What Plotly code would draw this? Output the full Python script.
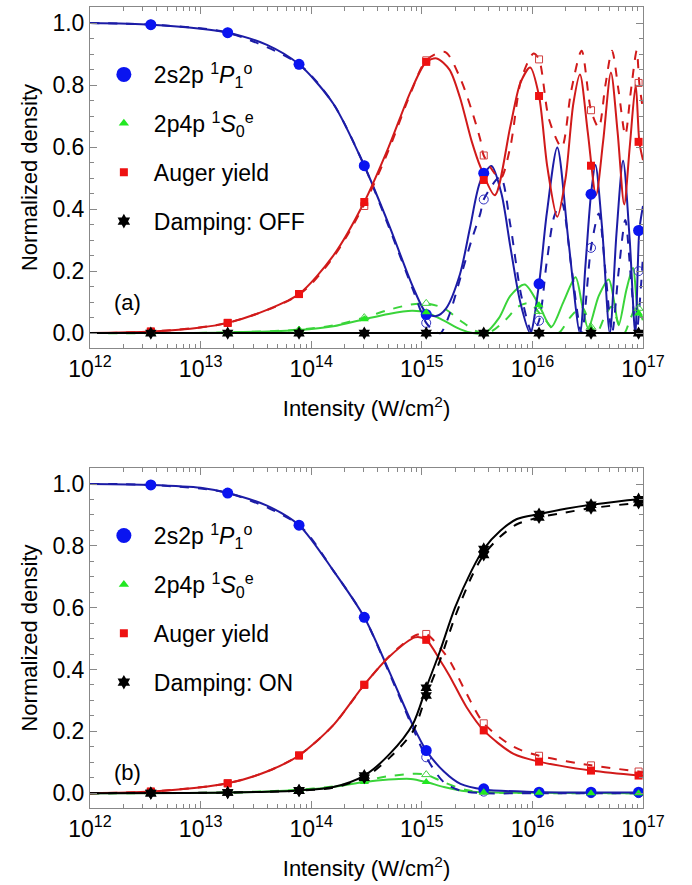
import plotly.graph_objects as go

# ---------------- data (x given as log10 of intensity) ----------------
mk_logI = [12.55, 13.245, 13.89, 14.48, 15.04, 15.56, 16.06, 16.53, 16.96]

# Panel (a): damping OFF
a_blue_solid_x = [12.0, 12.55, 13.0, 13.245, 13.6, 13.89, 14.2, 14.48, 14.71, 14.92, 15.04, 15.13, 15.22, 15.345, 15.436, 15.53, 15.63, 15.72, 15.80, 15.89, 15.98, 16.06, 16.13, 16.225, 16.325, 16.43, 16.48, 16.53, 16.57, 16.63, 16.70, 16.76, 16.82, 16.88, 16.93, 16.967, 17.0]
a_blue_solid_y = [1.0, 0.995, 0.982, 0.969, 0.93, 0.867, 0.74, 0.54, 0.343, 0.149, 0.065, 0.055, 0.08, 0.19, 0.34, 0.49, 0.539, 0.45, 0.28, 0.10, 0.0, 0.159, 0.386, 0.599, 0.30, 0.0, 0.22, 0.448, 0.542, 0.34, 0.0, 0.32, 0.556, 0.30, 0.0, 0.332, 0.41]
a_blue_dash_x = [12.0, 12.55, 13.245, 13.89, 14.2, 14.48, 14.71, 14.92, 15.04, 15.12, 15.17, 15.25, 15.35, 15.45, 15.53, 15.56, 15.71, 15.80, 15.90, 16.0, 16.06, 16.13, 16.20, 16.265, 16.35, 16.445, 16.53, 16.60, 16.66, 16.72, 16.78, 16.84, 16.89, 16.94, 17.0]
a_blue_dash_y = [1.0, 0.995, 0.969, 0.867, 0.74, 0.54, 0.335, 0.14, 0.033, 0.005, 0.0, 0.06, 0.18, 0.30, 0.387, 0.431, 0.504, 0.35, 0.12, 0.0, 0.04, 0.23, 0.38, 0.42, 0.22, 0.0, 0.275, 0.386, 0.20, 0.0, 0.20, 0.365, 0.18, 0.0, 0.25]
a_red_solid_x = [12.0, 12.55, 13.0, 13.245, 13.6, 13.89, 14.2, 14.48, 14.7, 14.9, 15.04, 15.135, 15.25, 15.345, 15.45, 15.53, 15.66, 15.80, 15.89, 15.98, 16.06, 16.135, 16.225, 16.30, 16.37, 16.43, 16.50, 16.575, 16.64, 16.71, 16.77, 16.83, 16.88, 16.934, 16.967, 17.0]
a_red_solid_y = [0.0, 0.005, 0.018, 0.033, 0.075, 0.126, 0.25, 0.423, 0.60, 0.78, 0.875, 0.886, 0.85, 0.76, 0.62, 0.536, 0.445, 0.666, 0.806, 0.857, 0.765, 0.536, 0.375, 0.50, 0.74, 0.834, 0.65, 0.445, 0.62, 0.841, 0.65, 0.415, 0.60, 0.80, 0.617, 0.558]
a_red_dash_x = [12.0, 12.55, 13.245, 13.89, 14.2, 14.48, 14.7, 14.9, 15.04, 15.21, 15.35, 15.45, 15.53, 15.56, 15.71, 15.80, 15.90, 16.01, 16.06, 16.15, 16.265, 16.35, 16.445, 16.53, 16.60, 16.66, 16.72, 16.78, 16.84, 16.89, 16.943, 16.967, 17.0]
a_red_dash_y = [0.0, 0.005, 0.033, 0.124, 0.245, 0.415, 0.59, 0.775, 0.88, 0.907, 0.82, 0.72, 0.623, 0.573, 0.499, 0.60, 0.82, 0.902, 0.883, 0.69, 0.599, 0.78, 0.911, 0.719, 0.663, 0.80, 0.911, 0.78, 0.639, 0.78, 0.911, 0.805, 0.72]
a_green_solid_x = [12.0, 12.55, 13.245, 13.89, 14.2, 14.48, 14.7, 14.91, 15.04, 15.2, 15.35, 15.46, 15.57, 15.7, 15.8, 15.93, 16.06, 16.17, 16.28, 16.39, 16.45, 16.505, 16.6, 16.69, 16.74, 16.78, 16.85, 16.91, 16.96, 17.0]
a_green_solid_y = [0.0, 0.0, 0.002, 0.01, 0.022, 0.045, 0.062, 0.072, 0.067, 0.04, 0.012, 0.0, 0.0, 0.05, 0.12, 0.157, 0.09, 0.02, 0.10, 0.18, 0.09, 0.015, 0.12, 0.173, 0.10, 0.025, 0.14, 0.21, 0.063, 0.05]
a_green_dash_x = [12.0, 12.55, 13.245, 13.89, 14.2, 14.48, 14.7, 14.9, 15.04, 15.2, 15.35, 15.5, 15.6, 15.75, 15.87, 15.97, 16.1, 16.23, 16.34, 16.445, 16.52, 16.58, 16.65, 16.715, 16.78, 16.83, 16.89, 16.94, 17.0]
a_green_dash_y = [0.0, 0.0, 0.002, 0.011, 0.025, 0.05, 0.075, 0.092, 0.096, 0.08, 0.04, 0.005, 0.0, 0.04, 0.085, 0.096, 0.05, 0.0, 0.05, 0.085, 0.03, 0.0, 0.05, 0.085, 0.03, 0.0, 0.05, 0.085, 0.04]
a_black_x = [12.0, 17.0]
a_black_y = [0.0, 0.0]

a_mk_blue = [0.995, 0.969, 0.867, 0.54, 0.06, 0.516, 0.159, 0.448, 0.331]
a_mk_blue_open = [0.995, 0.969, 0.867, 0.54, 0.033, 0.431, 0.04, 0.275, 0.2]
a_mk_red = [0.005, 0.033, 0.126, 0.423, 0.875, 0.494, 0.765, 0.54, 0.617]
a_mk_red_open = [0.005, 0.033, 0.126, 0.41, 0.88, 0.573, 0.883, 0.719, 0.807]
a_mk_green = [0.0, 0.002, 0.01, 0.045, 0.067, 0.0, 0.09, 0.01, 0.063]
a_mk_green_open = [0.0, 0.002, 0.01, 0.05, 0.096, 0.0, 0.07, 0.02, 0.08]
a_mk_black = [0.0, 0.0, 0.0, 0.0, 0.0, 0.0, 0.0, 0.0, 0.0]

# Panel (b): damping ON
b_blue_solid_x = [12.0, 12.55, 13.0, 13.245, 13.6, 13.89, 14.2, 14.48, 14.71, 14.92, 15.04, 15.2, 15.35, 15.56, 16.0, 16.5, 17.0]
b_blue_solid_y = [1.0, 0.997, 0.988, 0.971, 0.93, 0.867, 0.72, 0.569, 0.39, 0.219, 0.138, 0.07, 0.03, 0.012, 0.004, 0.002, 0.002]
b_blue_dash_x = [12.0, 12.55, 13.245, 13.89, 14.2, 14.48, 14.71, 14.92, 15.04, 15.2, 15.35, 15.56, 16.0, 17.0]
b_blue_dash_y = [1.0, 0.997, 0.971, 0.867, 0.72, 0.569, 0.385, 0.21, 0.116, 0.035, 0.008, 0.0, 0.0, 0.0]
b_red_solid_x = [12.0, 12.55, 13.245, 13.6, 13.89, 14.2, 14.48, 14.71, 14.94, 15.04, 15.165, 15.25, 15.405, 15.56, 15.83, 16.06, 16.53, 16.96, 17.0]
b_red_solid_y = [0.0, 0.005, 0.032, 0.07, 0.122, 0.22, 0.351, 0.443, 0.504, 0.496, 0.43, 0.38, 0.278, 0.203, 0.127, 0.102, 0.073, 0.057, 0.056]
b_red_dash_x = [12.0, 12.55, 13.245, 13.6, 13.89, 14.2, 14.48, 14.71, 14.94, 15.04, 15.165, 15.25, 15.405, 15.56, 15.83, 16.06, 16.53, 16.96, 17.0]
b_red_dash_y = [0.0, 0.005, 0.032, 0.07, 0.122, 0.22, 0.35, 0.445, 0.51, 0.515, 0.47, 0.43, 0.322, 0.226, 0.15, 0.121, 0.09, 0.07, 0.068]
b_black_solid_x = [12.0, 13.245, 13.89, 14.2, 14.48, 14.71, 14.92, 15.04, 15.165, 15.3, 15.45, 15.56, 15.71, 15.86, 16.06, 16.3, 16.53, 16.96, 17.0]
b_black_solid_y = [0.0, 0.002, 0.009, 0.02, 0.057, 0.127, 0.224, 0.341, 0.46, 0.60, 0.72, 0.79, 0.849, 0.887, 0.903, 0.92, 0.933, 0.951, 0.952]
b_black_dash_x = [12.0, 13.245, 13.89, 14.2, 14.48, 14.71, 14.92, 15.04, 15.165, 15.3, 15.45, 15.56, 15.71, 15.86, 16.06, 16.3, 16.53, 16.96, 17.0]
b_black_dash_y = [0.0, 0.002, 0.008, 0.018, 0.05, 0.115, 0.20, 0.316, 0.43, 0.57, 0.70, 0.771, 0.83, 0.87, 0.892, 0.908, 0.922, 0.939, 0.94]
b_green_solid_x = [12.0, 13.245, 13.89, 14.2, 14.48, 14.7, 14.9, 15.04, 15.2, 15.4, 15.56, 16.0, 17.0]
b_green_solid_y = [0.0, 0.002, 0.01, 0.02, 0.036, 0.044, 0.046, 0.036, 0.02, 0.006, 0.003, 0.001, 0.0]
b_green_dash_x = [12.0, 13.245, 13.89, 14.2, 14.48, 14.7, 14.95, 15.04, 15.2, 15.4, 15.56, 16.0, 17.0]
b_green_dash_y = [0.0, 0.002, 0.011, 0.022, 0.04, 0.055, 0.063, 0.06, 0.035, 0.01, 0.003, 0.0, 0.0]

b_mk_blue = [0.997, 0.971, 0.867, 0.569, 0.138, 0.014, 0.003, 0.003, 0.003]
b_mk_blue_open = [0.997, 0.971, 0.867, 0.569, 0.116, 0.005, 0.0, 0.0, 0.0]
b_mk_red = [0.005, 0.032, 0.122, 0.351, 0.496, 0.203, 0.102, 0.073, 0.057]
b_mk_red_open = [0.005, 0.032, 0.122, 0.35, 0.515, 0.226, 0.121, 0.09, 0.07]
b_mk_green = [0.0, 0.002, 0.01, 0.036, 0.036, 0.003, 0.001, 0.0, 0.0]
b_mk_green_open = [0.0, 0.002, 0.01, 0.04, 0.06, 0.003, 0.0, 0.0, 0.0]
b_mk_black = [0.0, 0.002, 0.009, 0.057, 0.341, 0.79, 0.903, 0.933, 0.951]
b_mk_black_dash = [0.0, 0.002, 0.008, 0.05, 0.316, 0.771, 0.892, 0.922, 0.939]

tick_exps = [12, 13, 14, 15, 16, 17]
legend_labels = ["2s2p <sup>1</sup><i>P</i><sub>1</sub><sup>o</sup>",
                 "2p4p <sup>1</sup><i>S</i><sub>0</sub><sup>e</sup>",
                 "Auger yield"]

# ---------------- styles ----------------
C_BLUE_L, C_BLUE_M = "#1c1ca6", "#0a14f0"
C_RED_L, C_RED_M = "#d11a1a", "#ee1111"
C_GREEN_L, C_GREEN_M = "#3ad43a", "#22e822"
C_BLACK = "#000000"
FONT = "Arial, Liberation Sans, sans-serif"
STAR = "hexagram"

fig = go.Figure()

def E(xs):
    return [10 ** v for v in xs]

def line(xs, ys, color, dash, ax):
    fig.add_trace(go.Scatter(x=E(xs), y=ys, mode="lines", line=dict(color=color, width=2, dash=dash, shape="spline", smoothing=0.8),
                             xaxis=ax[0], yaxis=ax[1], showlegend=False, hoverinfo="skip"))

def marks(ys, color, symbol, size, ax, open_=False):
    if open_:
        m = dict(symbol=symbol, size=size, color=color, line=dict(color=color, width=1))
    else:
        m = dict(symbol=symbol, size=size, color=color, line=dict(width=0))
    fig.add_trace(go.Scatter(x=E(mk_logI), y=ys, mode="markers", marker=m,
                             xaxis=ax[0], yaxis=ax[1], showlegend=False, hoverinfo="skip"))

def legend_item(name, color, symbol, size, leg):
    fig.add_trace(go.Scatter(x=[None], y=[None], mode="markers", name=name,
                             marker=dict(symbol=symbol, size=size, color=color, line=dict(width=0)),
                             legend=leg, legendgroup=leg + name, showlegend=True))

# panel a
A = ("x", "y")
line(a_green_dash_x, a_green_dash_y, C_GREEN_L, "dash", A)
line(a_green_solid_x, a_green_solid_y, C_GREEN_L, "solid", A)
line(a_blue_dash_x, a_blue_dash_y, C_BLUE_L, "dash", A)
line(a_blue_solid_x, a_blue_solid_y, C_BLUE_L, "solid", A)
line(a_red_dash_x, a_red_dash_y, C_RED_L, "dash", A)
line(a_red_solid_x, a_red_solid_y, C_RED_L, "solid", A)
line(a_black_x, a_black_y, C_BLACK, "solid", A)
marks(a_mk_blue_open, "#3030c0", "circle-open", 9, A, True)
marks(a_mk_red_open, "#d04040", "square-open", 7, A, True)
marks(a_mk_green_open, "#40d040", "triangle-up-open", 8, A, True)
marks(a_mk_blue, C_BLUE_M, "circle", 11, A)
marks(a_mk_red, C_RED_M, "square", 8, A)
marks(a_mk_green, C_GREEN_M, "triangle-up", 8, A)
marks(a_mk_black, C_BLACK, STAR, 10, A)

# panel b
B = ("x2", "y2")
line(b_green_dash_x, b_green_dash_y, C_GREEN_L, "dash", B)
line(b_green_solid_x, b_green_solid_y, C_GREEN_L, "solid", B)
line(b_blue_dash_x, b_blue_dash_y, C_BLUE_L, "dash", B)
line(b_blue_solid_x, b_blue_solid_y, C_BLUE_L, "solid", B)
line(b_red_dash_x, b_red_dash_y, C_RED_L, "dash", B)
line(b_red_solid_x, b_red_solid_y, C_RED_L, "solid", B)
line(b_black_dash_x, b_black_dash_y, C_BLACK, "dash", B)
line(b_black_solid_x, b_black_solid_y, C_BLACK, "solid", B)
marks(b_mk_blue_open, "#3030c0", "circle-open", 9, B, True)
marks(b_mk_red_open, "#d04040", "square-open", 7, B, True)
marks(b_mk_green_open, "#40d040", "triangle-up-open", 8, B, True)
marks(b_mk_blue, C_BLUE_M, "circle", 11, B)
marks(b_mk_red, C_RED_M, "square", 8, B)
marks(b_mk_green, C_GREEN_M, "triangle-up", 8, B)
marks(b_mk_black_dash, C_BLACK, STAR, 10, B)
marks(b_mk_black, C_BLACK, STAR, 10, B)

for leg, last in (("legend", "Damping: OFF"), ("legend2", "Damping: ON")):
    legend_item(legend_labels[0], C_BLUE_M, "circle", 15, leg)
    legend_item(legend_labels[1], C_GREEN_M, "triangle-up", 9, leg)
    legend_item(legend_labels[2], C_RED_M, "square", 8, leg)
    legend_item(last, C_BLACK, STAR, 11, leg)

ticktext = ["10<sup>%d</sup>" % e for e in tick_exps]
xcommon = dict(type="log", range=[12, 17], tickvals=[10 ** e for e in tick_exps], ticktext=ticktext,
               ticks="inside", ticklen=7, tickcolor="#888", showline=True, linecolor="#888", linewidth=1,
               mirror="allticks", showgrid=False, zeroline=False, tickfont=dict(size=23, color="black"),
               minor=dict(ticks="inside", ticklen=4, tickcolor="#888", dtick="D1", showgrid=False),
               title=dict(text="Intensity (W/cm<sup>2</sup>)", font=dict(size=22, color="black"), standoff=20))
ycommon = dict(range=[-0.048, 1.052], tickvals=[0, 0.2, 0.4, 0.6, 0.8, 1.0], tickformat=".1f",
               ticks="inside", ticklen=7, tickcolor="#888", showline=True, linecolor="#888", linewidth=1,
               mirror="allticks", showgrid=False, zeroline=False, tickfont=dict(size=23, color="black"),
               minor=dict(ticks="inside", ticklen=4, tickcolor="#888", dtick=0.05, showgrid=False),
               title=dict(text="Normalized density", font=dict(size=22, color="black"), standoff=8))

fig.update_layout(
    width=692, height=885, margin=dict(l=90, r=49, t=7, b=77),
    paper_bgcolor="white", plot_bgcolor="white",
    font=dict(family=FONT, size=22, color="black"),
    xaxis=dict(xcommon, domain=[0, 1], anchor="y"),
    yaxis=dict(ycommon, domain=[0.5743, 1], anchor="x"),
    xaxis2=dict(xcommon, domain=[0, 1], anchor="y2"),
    yaxis2=dict(ycommon, domain=[0, 0.4245], anchor="x2"),
    legend=dict(x=0.007, y=0.9426, xanchor="left", yanchor="top", bgcolor="rgba(0,0,0,0)",
                font=dict(size=23), itemwidth=50, tracegroupgap=16, xref="paper", yref="paper"),
    legend2=dict(x=0.007, y=0.367, xanchor="left", yanchor="top", bgcolor="rgba(0,0,0,0)",
                 font=dict(size=23), itemwidth=50, tracegroupgap=16, xref="paper", yref="paper"),
    annotations=[
        dict(text="(a)", x=0.067, y=0.132, xref="x domain", yref="y domain", xanchor="center", yanchor="middle",
             showarrow=False, font=dict(size=22)),
        dict(text="(b)", x=0.067, y=0.103, xref="x2 domain", yref="y2 domain", xanchor="center", yanchor="middle",
             showarrow=False, font=dict(size=22)),
    ],
)

fig.write_html("out.html")
